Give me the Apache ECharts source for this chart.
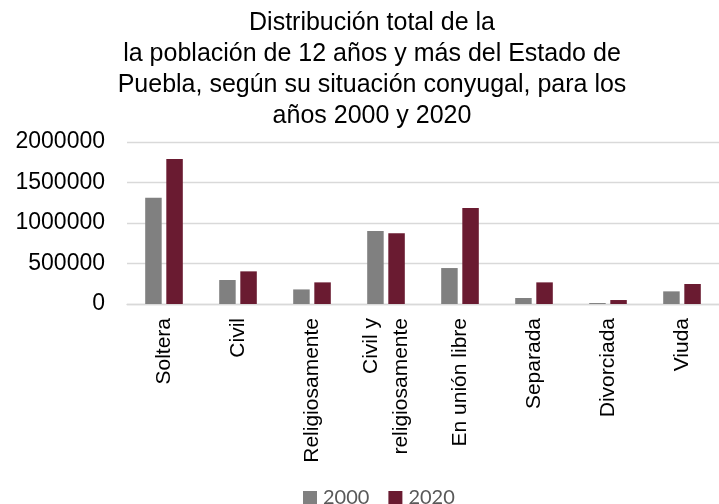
<!DOCTYPE html>
<html>
<head>
<meta charset="utf-8">
<script src="https://cdn.jsdelivr.net/npm/echarts@6/dist/echarts.min.js"></script>
<style>html,body{margin:0;padding:0;background:#fff}#c{width:719px;height:504px}</style>
</head>
<body>
<div id="c"></div>
<script>
const titleLines = [
  "Distribución total de la",
  "la población de 12 años y más del Estado de",
  "Puebla, según su situación conyugal, para los",
  "años 2000 y 2020"
];
const categories = ["Soltera", "Civil", "Religiosamente", "Civil y\nreligiosamente", "En unión libre", "Separada", "Divorciada", "Viuda"];
const seriesNames = ["2000", "2020"];
const values2000 = [1312000, 296000, 180000, 900000, 444000, 74000, 12000, 156000];
const values2020 = [1790000, 403000, 267000, 872000, 1185000, 267000, 49000, 247000];
const yTicks = { min: 0, max: 2000000, interval: 500000 };

const chart = echarts.init(document.getElementById('c'), null, { renderer: 'canvas' });

chart.setOption({
  animation: false,
  title: {
    text: titleLines.join('\n'),
    left: 372,
    top: 8,
    textAlign: 'center',
    padding: 0,
    textStyle: { fontFamily: 'Liberation Sans, Arial', fontSize: 25, fontWeight: 'normal', color: '#000', lineHeight: 31 }
  },
  legend: {
    data: seriesNames,
    left: 303,
    top: 488,
    padding: 0,
    icon: 'rect',
    itemWidth: 14,
    itemHeight: 14,
    itemGap: 19,
    textStyle: { fontFamily: 'Lato', fontSize: 20, color: '#595959', padding: [0, 0, 0, 1] }
  },
  grid: { left: 127, right: 0, top: 142, bottom: 200, containLabel: false },
  xAxis: {
    type: 'category', data: categories,
    axisLine: { lineStyle: { color: '#d9d9d9', width: 1.3 } },
    axisTick: { show: false },
    axisLabel: {
      rotate: 90, margin: 14, interval: 0,
      fontFamily: 'Liberation Sans, Arial', fontSize: 21, color: '#000', lineHeight: 30
    }
  },
  yAxis: {
    type: 'value', min: yTicks.min, max: yTicks.max, interval: yTicks.interval,
    axisLine: { show: false }, axisTick: { show: false },
    splitLine: { lineStyle: { color: '#d9d9d9', width: 1.3 } },
    axisLabel: { margin: 22, fontFamily: 'Liberation Sans, Arial', fontSize: 23, color: '#000', formatter: v => String(v) }
  },
  series: [
    { name: seriesNames[0], type: 'bar', data: values2000, barWidth: 16.5, barGap: '28%', itemStyle: { color: '#808080' } },
    { name: seriesNames[1], type: 'bar', data: values2020, barWidth: 16.5, barGap: '28%', itemStyle: { color: '#6a1b31' } }
  ]
});
</script>
</body>
</html>
